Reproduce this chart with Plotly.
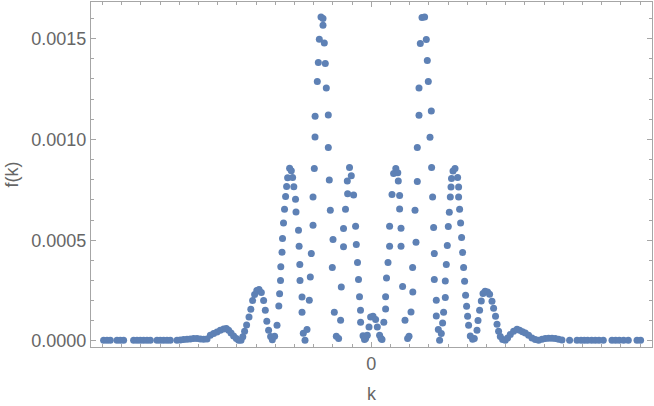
import plotly.graph_objects as go

# k positions (arbitrary units, minor tick every 1) and f(k) values in units of 1e-6
k_vals = [
    -13.943, -13.766, -13.594, -13.245, -13.073, -12.901, -12.380, -12.203, -12.031, -11.859,
    -11.682, -11.510, -11.161, -10.990, -10.818, -10.641, -10.469, -10.120, -9.948, -9.776,
    -9.599, -9.427, -9.255, -9.078, -8.906, -8.734, -8.557, -8.385, -8.214, -8.036,
    -7.865, -7.693, -7.552, -7.432, -7.307, -7.172, -7.031, -6.911, -6.786, -6.693,
    -6.599, -6.495, -6.370, -6.276, -6.182, -6.078, -5.964, -5.849, -5.729, -5.609,
    -5.521, -5.443, -5.349, -5.245, -5.156, -5.036, -4.911, -4.818, -4.776, -4.729,
    -4.714, -4.651, -4.625, -4.573, -4.521, -4.464, -4.411, -4.359, -4.255, -4.167,
    -4.099, -4.036, -3.948, -3.922, -3.792, -3.760, -3.724, -3.714, -3.609, -3.609,
    -3.542, -3.453, -3.349, -3.229, -3.177, -3.125, -3.036, -3.036, -2.969, -2.932,
    -2.927, -2.813, -2.760, -2.708, -2.620, -2.516, -2.516, -2.448, -2.396, -2.344,
    -2.240, -2.240, -2.188, -2.135, -1.995, -2.031, -1.927, -1.823, -1.703, -1.599,
    -1.563, -1.448, -1.448, -1.344, -1.250, -1.234, -1.135, -1.042, -0.922, -0.818,
    -0.781, -0.719, -0.667, -0.615, -0.563, -0.557, -0.432, -0.354, -0.297, -0.208,
    -0.120, -0.036, 0.089, 0.224, 0.313, 0.432, 0.505, 0.557, 0.651, 0.745,
    0.745, 0.792, 0.870, 0.953, 0.953, 1.078, 1.161, 1.276, 1.380, 1.406,
    1.474, 1.474, 1.547, 1.547, 1.630, 1.755, 1.891, 1.964, 2.068, 2.161,
    2.151, 2.328, 2.276, 2.396, 2.396, 2.484, 2.484, 2.552, 2.641, 2.776,
    2.865, 2.917, 2.969, 3.125, 3.057, 3.141, 3.193, 3.245, 3.281, 3.281,
    3.385, 3.385, 3.490, 3.557, 3.646, 3.714, 3.766, 3.854, 3.854, 3.906,
    3.958, 4.010, 4.063, 4.115, 4.151, 4.177, 4.255, 4.359, 4.495, 4.547,
    4.547, 4.599, 4.651, 4.703, 4.755, 4.807, 4.859, 4.911, 4.964, 5.016,
    5.068, 5.156, 5.276, 5.365, 5.505, 5.557, 5.641, 5.729, 5.818, 5.927,
    6.057, 6.161, 6.286, 6.370, 6.469, 6.547, 6.630, 6.719, 6.839, 6.979,
    7.099, 7.240, 7.411, 7.589, 7.724, 7.875, 8.021, 8.193, 8.370, 8.542,
    8.714, 8.891, 9.063, 9.234, 9.411, 9.583, 9.755, 9.932, 10.328, 10.714,
    10.922, 11.094, 11.266, 11.474, 11.667, 11.859, 12.083, 12.536, 12.724, 12.917,
    13.141, 13.385, 13.839, 14.026,
]

f_e6 = [
    3.5, 3.5, 3.5, 3.5, 3.5, 3.5, 3.5, 3.5, 3.5, 3.5,
    3.5, 3.5, 3.5, 3.5, 3.5, 3.5, 3.5, 3.5, 5.0, 6.9,
    8.4, 9.9, 11.9, 11.9, 9.9, 8.4, 9.9, 28.3, 36.7, 44.6,
    53.1, 59.5, 61.5, 53.1, 39.7, 24.8, 11.9, 3.5, 3.5, 20.8,
    48.1, 79.4, 119.0, 157.2, 200.4, 230.1, 250.0, 254.9, 240.1, 200.4,
    152.3, 97.7, 53.1, 21.8, 6.0, 23.3, 77.9, 173.6, 234.1, 300.1,
    368.0, 440.0, 508.4, 585.3, 653.2, 716.2, 765.8, 809.5, 856.6, 844.2,
    810.5, 764.8, 702.8, 639.8, 549.1, 469.7, 378.9, 300.1, 218.2, 142.4,
    38.2, 3.5, 56.5, 201.9, 317.4, 433.5, 573.9, 714.2, 855.1, 1011.8,
    1114.5, 1286.6, 1380.9, 1496.4, 1607.0, 1599.1, 1565.9, 1478.1, 1375.9, 1254.9,
    1121.0, 959.3, 798.6, 648.3, 502.9, 364.1, 142.4, 23.3, 11.9, 102.7,
    267.8, 467.2, 557.5, 653.2, 793.6, 730.1, 860.1, 819.4, 724.2, 568.9,
    478.1, 388.9, 304.5, 219.2, 152.3, 92.8, 25.8, 6.9, 11.9, 28.3,
    69.4, 119.0, 122.5, 106.1, 69.4, 28.3, 11.9, 6.9, 92.8, 158.7,
    219.2, 312.0, 388.9, 469.7, 568.9, 726.1, 830.3, 855.1, 834.3, 793.6,
    721.2, 654.7, 559.0, 469.7, 269.8, 102.7, 11.9, 23.3, 143.8, 243.0,
    364.1, 489.6, 648.3, 790.6, 959.8, 1119.5, 1254.9, 1475.1, 1604.1, 1607.0,
    1494.9, 1390.8, 1286.6, 1140.8, 1010.4, 860.1, 714.2, 562.5, 433.5, 304.5,
    201.9, 124.0, 56.5, 3.5, 36.7, 89.3, 142.4, 215.3, 297.6, 378.9,
    473.2, 567.4, 638.4, 714.2, 763.8, 805.5, 843.2, 855.1, 810.5, 763.8,
    714.2, 653.2, 585.3, 512.9, 438.5, 364.1, 296.1, 226.7, 172.1, 122.5,
    77.9, 24.8, 8.4, 11.9, 53.1, 101.2, 152.3, 198.4, 235.1, 246.5,
    243.0, 231.6, 196.9, 162.2, 122.5, 82.8, 48.1, 21.8, 7.4, 3.5,
    14.9, 31.7, 48.1, 58.0, 53.1, 45.6, 39.7, 28.3, 14.9, 6.9,
    3.5, 8.4, 11.9, 13.4, 13.4, 11.9, 8.4, 5.0, 3.5, 3.5,
    3.5, 3.5, 3.5, 3.5, 3.5, 3.5, 3.5, 3.5, 3.5, 3.5,
    3.5, 3.5, 3.5, 3.5,
]

y_ticks = [0.0, 0.0005, 0.0010, 0.0015]
y_tick_text = ["0.0000", "0.0005", "0.0010", "0.0015"]

f_vals = [v * 1e-6 for v in f_e6]

axis_color = "#a6a6a6"
text_color = "#666666"
font_family = "Liberation Sans, Arial, sans-serif"

fig = go.Figure()
fig.add_trace(go.Scatter(
    x=k_vals, y=f_vals, mode="markers",
    marker=dict(size=7, color="#5e81b5", line=dict(width=0)),
    hoverinfo="skip",
))

fig.update_layout(
    width=654, height=406,
    margin=dict(l=91, r=2, t=2, b=59),
    plot_bgcolor="white", paper_bgcolor="white",
    showlegend=False,
    font=dict(family=font_family, size=18, color=text_color),
)

fig.update_xaxes(
    range=[-14.60, 14.62], automargin=False,
    showgrid=False, zeroline=False,
    showline=True, linecolor=axis_color, linewidth=1, mirror="ticks",
    ticks="inside", ticklen=5, tickcolor=axis_color, tickwidth=1,
    tickvals=[0], ticktext=["0"],
    minor=dict(dtick=1, tick0=0, ticks="inside", ticklen=3, tickcolor=axis_color, showgrid=False),
    title=dict(text="k", standoff=14, font=dict(size=18, color=text_color)),
)

fig.update_yaxes(
    range=[-2.98e-5, 0.0016815], automargin=False,
    showgrid=False, zeroline=False,
    showline=True, linecolor=axis_color, linewidth=1, mirror="ticks",
    ticks="inside", ticklen=5, tickcolor=axis_color, tickwidth=1,
    tickvals=y_ticks, ticktext=y_tick_text,
    minor=dict(dtick=0.0001, tick0=0, ticks="inside", ticklen=3, tickcolor=axis_color, showgrid=False),
    title=dict(text="f(k)", standoff=8, font=dict(size=18, color=text_color)),
)

# the page body has a default 8px margin; drop it so the figure sits at the window corner
fig.write_html(
    "out.html",
    config={"displayModeBar": False},
    post_script="document.body.style.margin='0';",
)
